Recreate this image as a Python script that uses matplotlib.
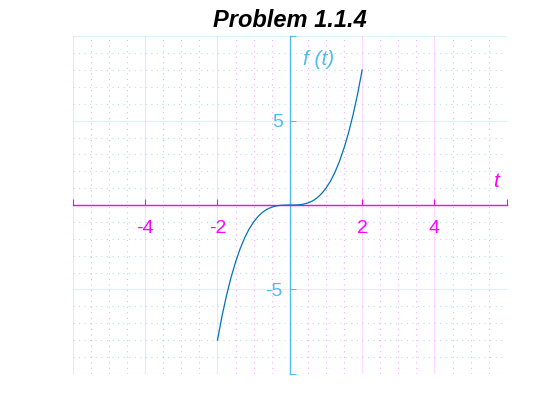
import matplotlib
matplotlib.use("Agg")
import matplotlib.pyplot as plt
from matplotlib.ticker import MultipleLocator

plt.rcParams['font.family'] = ['Liberation Sans', 'DejaVu Sans']

# samples of f(t)
t = [-2.0, -1.875, -1.75, -1.625, -1.5, -1.375, -1.25, -1.125, -1.0,
     -0.875, -0.75, -0.625, -0.5, -0.375, -0.25, -0.125, 0.0,
     0.125, 0.25, 0.375, 0.5, 0.625, 0.75, 0.875, 1.0,
     1.125, 1.25, 1.375, 1.5, 1.625, 1.75, 1.875, 2.0]
f = [-8.0, -6.59, -5.36, -4.29, -3.38, -2.60, -1.95, -1.42, -1.0,
     -0.67, -0.42, -0.24, -0.125, -0.053, -0.016, -0.002, 0.0,
     0.002, 0.016, 0.053, 0.125, 0.24, 0.42, 0.67, 1.0,
     1.42, 1.95, 2.60, 3.38, 4.29, 5.36, 6.59, 8.0]

x_ticks = [-6, -4, -2, 0, 2, 4, 6]
x_labels = ['', '-4', '-2', '', '2', '4', '']
y_ticks = [-10, -5, 0, 5, 10]
y_labels = ['', '-5', '', '5', '']

magenta = '#FF00FF'
cyan = '#4DBEEE'

fig = plt.figure(figsize=(5.6, 4.2), dpi=100)
ax = fig.add_axes([0.13, 0.11, 0.775, 0.8035])
ax.set_xlim(-6, 6)
ax.set_ylim(-10, 10)

# grid: vertical lines magenta, horizontal lines cyan
for x in x_ticks:
    ax.axvline(x, color=magenta, alpha=0.15, lw=0.8, zorder=0)
for y in y_ticks:
    ax.axhline(y, color=cyan, alpha=0.2, lw=0.8, zorder=0)
ax.xaxis.set_minor_locator(MultipleLocator(0.5))
ax.yaxis.set_minor_locator(MultipleLocator(1))
ax.grid(which='minor', axis='x', color=magenta, alpha=0.35, ls=(0, (1, 4)), lw=0.8)
ax.grid(which='minor', axis='y', color=cyan, alpha=0.45, ls=(0, (1, 4)), lw=0.8)
ax.tick_params(which='minor', length=0)

ax.plot(t, f, color='#0072BD', lw=0.9, zorder=3)

for s in ['top', 'right']:
    ax.spines[s].set_visible(False)
ax.spines['left'].set_position('zero')
ax.spines['bottom'].set_position('zero')
ax.spines['left'].set_color(cyan)
ax.spines['bottom'].set_color(magenta)
ax.spines['left'].set_linewidth(1.0)
ax.spines['bottom'].set_linewidth(1.0)

ax.set_xticks(x_ticks)
ax.set_xticklabels(x_labels)
ax.set_yticks(y_ticks)
ax.set_yticklabels(y_labels)
ax.tick_params(axis='x', which='major', direction='in', length=4, color=magenta,
               labelcolor=magenta, labelsize=14, pad=11)
ax.tick_params(axis='y', which='major', direction='in', length=4, color=cyan,
               labelcolor=cyan, labelsize=14, pad=5)

ax.text(0.79, 8.6, 'f (t)', color=cyan, fontsize=15, style='italic',
        ha='center', va='center')
ax.text(5.7, 1.4, 't', color=magenta, fontsize=15, style='italic',
        ha='center', va='center')

ax.set_title('Problem 1.1.4', fontsize=17, fontweight='bold', style='italic', pad=7)

fig.savefig('out.png', dpi=100)
